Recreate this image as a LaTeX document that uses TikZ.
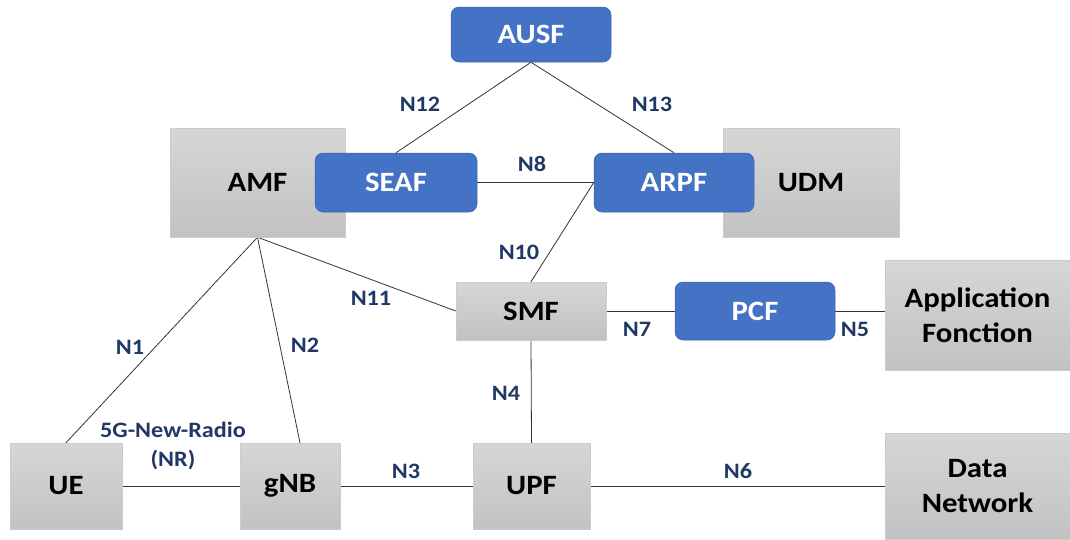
\documentclass[tikz,border=0pt]{standalone}
\usepackage{fontspec}
\setmainfont[FakeStretch=1.1]{Carlito}
\usetikzlibrary{backgrounds}
\definecolor{nfblue}{HTML}{4472C4}
\definecolor{lblblue}{HTML}{1F3864}
\definecolor{gtop}{HTML}{D6D6D6}
\definecolor{gbot}{HTML}{C2C2C2}
\tikzset{
  graybox/.style={top color=gtop, bottom color=gbot, draw=gray!40, line width=0.5pt, font=\fontsize{28}{35}\selectfont\bfseries, text=black, align=center, inner sep=0pt},
  bluebox/.style={fill=nfblue, draw=nfblue!85!black, line width=0.5pt, rounded corners=8pt, font=\fontsize{28}{34}\selectfont\bfseries, text=white, inner sep=0pt},
  link/.style={draw=black!80, line width=0.8pt},
  lbl/.style={font=\fontsize{22}{29}\selectfont\bfseries, text=lblblue, align=center, inner sep=0pt}
}
\begin{document}
\begin{tikzpicture}[x=1pt,y=-1pt]
\useasboundingbox (0,0) rectangle (1070,539);
% gray boxes
\node[graybox, minimum width=175, minimum height=109] (amf) at (257.5,182.5) {AMF};
\node[graybox, minimum width=176, minimum height=109] (udm) at (811,182.5) {UDM};
\node[graybox, minimum width=150, minimum height=58] (smf) at (531,311) {SMF};
\node[graybox, minimum width=185, minimum height=110] (af) at (977.5,315) {Application\\Fonction};
\node[graybox, minimum width=112, minimum height=86] (ue) at (66,486) {UE};
\node[graybox, minimum width=100, minimum height=86] (gnb) at (290,486) {gNB};
\node[graybox, minimum width=117, minimum height=86] (upf) at (531.5,486) {UPF};
\node[graybox, minimum width=185, minimum height=106] (dn) at (977.5,486) {Data\\Network};
% blue boxes
\node[bluebox, minimum width=160, minimum height=55] (ausf) at (531,34.5) {AUSF};
\node[bluebox, minimum width=162, minimum height=59] (seaf) at (396,182.5) {SEAF};
\node[bluebox, minimum width=160, minimum height=59] (arpf) at (674,182.5) {ARPF};
\node[bluebox, minimum width=160, minimum height=58] (pcf) at (755,311) {PCF};
% links
\begin{scope}[on background layer]
\draw[link] (ausf.south) -- (seaf.north);
\draw[link] (ausf.south) -- (arpf.north);
\draw[link] (seaf.east) -- (arpf.west);
\draw[link] (arpf.west) -- (smf.north);
\draw[link] (amf.south) -- (ue.north);
\draw[link] (amf.south) -- ([xshift=10pt]gnb.north);
\draw[link] (amf.south) -- (smf.west);
\draw[link] (smf.east) -- (pcf.west);
\draw[link] (pcf.east) -- (af.west |- pcf.east);
\draw[link] (smf.south) -- (upf.north);
\draw[link] (ue.east) -- (gnb.west);
\draw[link] (gnb.east) -- (upf.west);
\draw[link] (upf.east) -- (dn.west);
\end{scope}
% labels
\node[lbl] (l12) at (420,104) {N12};
\node[lbl] (l13) at (652,104) {N13};
\node[lbl] (l8) at (532,164) {N8};
\node[lbl] (l10) at (519,252) {N10};
\node[lbl] (l11) at (371,298) {N11};
\node[lbl] (l1) at (130,347) {N1};
\node[lbl] (l2) at (305,345) {N2};
\node[lbl] (l7) at (637,329) {N7};
\node[lbl] (l5) at (855,329) {N5};
\node[lbl] (l4) at (506,393) {N4};
\node[lbl] (l3) at (406,471) {N3};
\node[lbl] (l6) at (738,471) {N6};
\node[lbl] (lnr) at (173,446) {5G-New-Radio\\(NR)};
\end{tikzpicture}
\end{document}
